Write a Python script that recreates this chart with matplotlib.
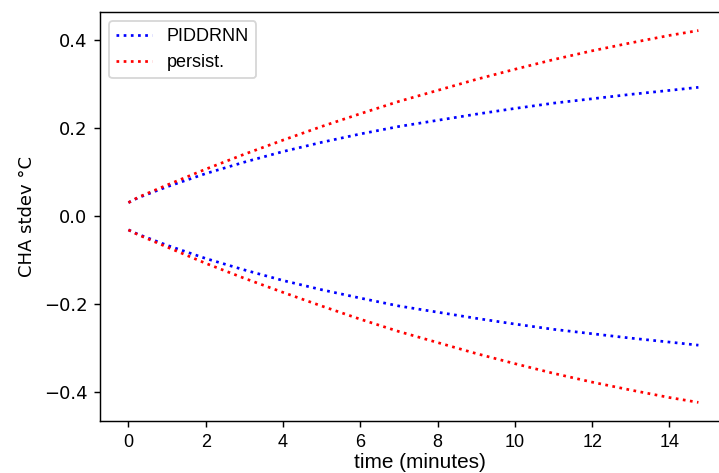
import numpy as np
import matplotlib
matplotlib.use('Agg')
import matplotlib.pyplot as plt

# time axis (minutes) and spread values
time_min = [0, 0.25, 1, 2, 3, 4, 5, 6, 7, 8, 9, 10, 11, 12, 13, 14, 14.75]
piddrnn_upper = [0.030, 0.041, 0.066, 0.096, 0.122, 0.146, 0.167, 0.186, 0.203,
                 0.217, 0.231, 0.244, 0.256, 0.266, 0.276, 0.285, 0.292]
persist_upper = [0.030, 0.042, 0.070, 0.106, 0.140, 0.172, 0.203, 0.232, 0.260,
                 0.285, 0.310, 0.333, 0.355, 0.375, 0.393, 0.410, 0.421]
piddrnn_lower = [-0.032, -0.042, -0.067, -0.097, -0.123, -0.147, -0.168, -0.187, -0.205,
                 -0.219, -0.233, -0.246, -0.258, -0.268, -0.278, -0.287, -0.294]
persist_lower = [-0.032, -0.043, -0.071, -0.108, -0.142, -0.174, -0.205, -0.235, -0.263,
                 -0.288, -0.313, -0.336, -0.358, -0.378, -0.396, -0.413, -0.424]

fig = plt.figure(figsize=(719 / 130, 473 / 130), dpi=130)
ax = fig.add_axes([0.139, 0.110, 0.872, 0.8647])

ax.plot(time_min, piddrnn_upper, ':', color='blue', lw=1.5, label='PIDDRNN')
ax.plot(time_min, persist_upper, ':', color='red', lw=1.5, label='persist.')
ax.plot(time_min, piddrnn_lower, ':', color='blue', lw=1.5)
ax.plot(time_min, persist_lower, ':', color='red', lw=1.5)

ax.set_xticks([0, 2, 4, 6, 8, 10, 12, 14])
ax.set_yticks([-0.4, -0.2, 0.0, 0.2, 0.4])
for lbl in ax.get_xticklabels():
    lbl.set_family('Liberation Sans')
ax.set_xlabel('time (minutes)', family='Liberation Sans', fontsize=11.5)
ax.xaxis.set_label_coords(0.51, -0.078)
ax.set_ylabel('CHA stdev °C')
leg = ax.legend(loc='upper left', prop={'family': 'Liberation Sans', 'size': 10})

fig.savefig('out.png', dpi=130)
